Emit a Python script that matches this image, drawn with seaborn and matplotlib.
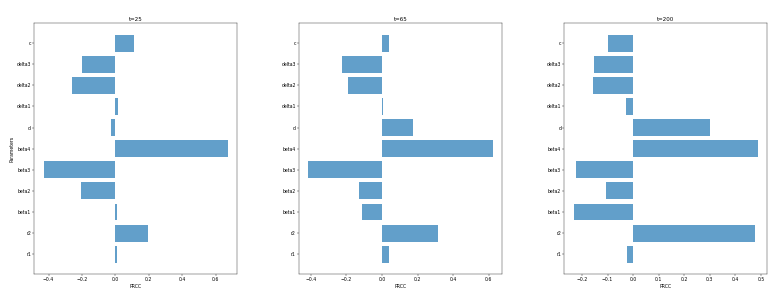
import matplotlib
matplotlib.use("Agg")
import matplotlib.pyplot as plt
import seaborn as sns
import pandas as pd

params = ["r1", "r2", "beta1", "beta2", "beta3", "beta4", "d", "delta1", "delta2", "delta3", "c"]
titles = ["t=25", "t=65", "t=200"]
prcc_t25 = [0.010, 0.194, 0.008, -0.204, -0.430, 0.674, -0.026, 0.016, -0.262, -0.198, 0.114]
prcc_t65 = [0.038, 0.313, -0.113, -0.128, -0.413, 0.623, 0.174, 0.004, -0.190, -0.223, 0.038]
prcc_t200 = [-0.024, 0.477, -0.233, -0.105, -0.225, 0.489, 0.301, -0.029, -0.158, -0.153, -0.099]
series = [prcc_t25, prcc_t65, prcc_t200]

dpi = 33
fig = plt.figure(figsize=(779 / dpi, 299 / dpi), dpi=dpi)
lefts = [0.044, 0.384, 0.7245]
order = params[::-1]
n = len(params)
for i, (title, vals) in enumerate(zip(titles, series)):
    ax = fig.add_axes([lefts[i], 0.0836, 0.2606, 0.8384])
    df = pd.DataFrame({"Parameter": params, "PRCC": vals})
    sns.barplot(data=df, x="PRCC", y="Parameter", order=order, color="#1f77b4",
                saturation=1, alpha=0.7, width=0.8, edgecolor="none", ax=ax)
    ax.set_ylim(n - 1 + 0.4 + 0.54, -0.4 - 0.54)
    ax.margins(x=0.05)
    ax.set_title(title)
    ax.set_xlabel("PRCC")
    ax.set_ylabel("Parameters" if i == 0 else "")
fig.savefig("out.png", dpi=dpi)
